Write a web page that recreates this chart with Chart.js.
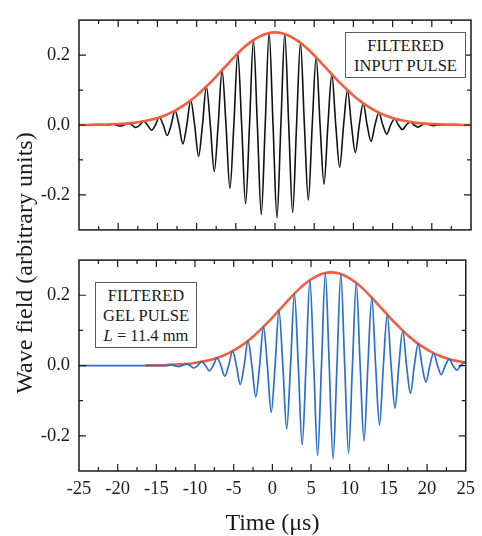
<!DOCTYPE html>
<html><head><meta charset="utf-8">
<script src="https://cdn.jsdelivr.net/npm/chart.js@4.4.0/dist/chart.umd.min.js"></script>
<style>
html,body{margin:0;padding:0;background:#fff;overflow:hidden;}
#wrap{position:relative;width:482px;height:536px;font-family:"Liberation Serif","Times New Roman",serif;color:#1a1a1a;}
#cA{position:absolute;left:0;top:0;}
#cB{position:absolute;left:0;top:240px;}
.box{position:absolute;border:1px solid #5a5a5a;background:#fff;text-align:center;font-size:16.5px;line-height:20px;box-sizing:border-box;padding-top:3px;white-space:nowrap;}
#ytitle{position:absolute;left:-126px;top:248px;width:300px;height:30px;line-height:30px;font-size:24px;text-align:center;transform:rotate(-90deg);white-space:nowrap;}
</style>
</head><body>
<div id="wrap">
<canvas id="cA" width="482" height="250"></canvas>
<canvas id="cB" width="482" height="296"></canvas>
<div class="box" style="left:345px;top:32px;width:121px;height:46px;">FILTERED<br>INPUT PULSE</div>
<div class="box" style="left:95px;top:282px;width:102px;height:66px;">FILTERED<br>GEL PULSE<br><i>L</i> = 11.4 mm</div>
<div id="ytitle">Wave field (arbitrary units)</div>
</div>
<script>
// ---- data ----
const xTickValues = [-25,-20,-15,-10,-5,0,5,10,15,20,25];
const yTickLabels = ['-0.2','0.0','0.2'];

const inputTimes = [-25,-21.25,-20.75,-20.25,-19.75,-19.25,-18.75,-18.25,-17.75,-17.25,-16.75,-16.25,-15.75,-15.25,-14.75,-14.25,-13.75,-13.25,-12.75,-12.25,-11.75,-11.25,-10.75,-10.25,-9.75,-9.25,-8.75,-8.25,-7.75,-7.25,-6.75,-6.25,-5.75,-5.25,-4.75,-4.25,-3.75,-3.25,-2.75,-2.25,-1.75,-1.25,-0.75,-0.25,0.25,0.75,1.25,1.75,2.25,2.75,3.25,3.75,4.25,4.75,5.25,5.75,6.25,6.75,7.25,7.75,8.25,8.75,9.25,9.75,10.25,10.75,11.25,11.75,12.25,12.75,13.25,13.75,14.25,14.75,15.25,15.75,16.25,16.75,17.25,17.75,18.25,18.75,19.25,19.75,20.25,20.75,25];
const inputWave = [0,0,0.002,0,-0.003,0,0.005,0,-0.007,0,0.011,0,-0.015,0,0.022,0,-0.030,0,0.041,0,-0.054,0,0.070,0,-0.089,0,0.110,0,-0.133,0,0.157,0,-0.181,0,0.205,0,-0.226,0,0.243,0,-0.256,0,0.263,0,-0.265,0,0.260,0,-0.250,0,0.235,0,-0.215,0,0.193,0,-0.169,0,0.145,0,-0.121,0,0.099,0,-0.079,0,0.062,0,-0.047,0,0.035,0,-0.026,0,0.018,0,-0.013,0,0.009,0,-0.006,0,0.004,0,-0.002,0,0];

const inputEnvTimes = [-25,-24,-23,-22,-21,-20,-19,-18,-17,-16,-15,-14,-13,-12,-11,-10,-9,-8,-7,-6,-5,-4,-3,-2,-1,0,1,2,3,4,5,6,7,8,9,10,11,12,13,14,15,16,17,18,19,20,21,22,23,24,25];
const inputEnv = [0,0,0.001,0.001,0.002,0.003,0.004,0.006,0.010,0.014,0.020,0.028,0.038,0.051,0.066,0.084,0.105,0.127,0.151,0.175,0.199,0.221,0.239,0.253,0.262,0.265,0.262,0.253,0.239,0.221,0.199,0.175,0.151,0.127,0.105,0.084,0.066,0.051,0.038,0.028,0.020,0.014,0.010,0.006,0.004,0.003,0.002,0.001,0.001,0,0];

const gelTimes = [-25,-13.65,-13.15,-12.65,-12.15,-11.65,-11.15,-10.65,-10.15,-9.65,-9.15,-8.65,-8.15,-7.65,-7.15,-6.65,-6.15,-5.65,-5.15,-4.65,-4.15,-3.65,-3.15,-2.65,-2.15,-1.65,-1.15,-0.65,-0.15,0.35,0.85,1.35,1.85,2.35,2.85,3.35,3.85,4.35,4.85,5.35,5.85,6.35,6.85,7.35,7.85,8.35,8.85,9.35,9.85,10.35,10.85,11.35,11.85,12.35,12.85,13.35,13.85,14.35,14.85,15.35,15.85,16.35,16.85,17.35,17.85,18.35,18.85,19.35,19.85,20.35,20.85,21.35,21.85,22.35,22.85,23.35,23.85,24.35,24.85,25];
const gelWave = [0,0,0.002,0,-0.003,0,0.005,0,-0.007,0,0.011,0,-0.015,0,0.022,0,-0.030,0,0.041,0,-0.054,0,0.070,0,-0.089,0,0.110,0,-0.133,0,0.157,0,-0.181,0,0.205,0,-0.226,0,0.243,0,-0.256,0,0.263,0,-0.265,0,0.260,0,-0.250,0,0.235,0,-0.215,0,0.193,0,-0.169,0,0.145,0,-0.121,0,0.099,0,-0.079,0,0.062,0,-0.047,0,0.035,0,-0.026,0,0.018,0,-0.013,0,0.009,0.008];

const gelEnvTimes = [-16.4,-15.4,-14.4,-13.4,-12.4,-11.4,-10.4,-9.4,-8.4,-7.4,-6.4,-5.4,-4.4,-3.4,-2.4,-1.4,-0.4,0.6,1.6,2.6,3.6,4.6,5.6,6.6,7.6,8.6,9.6,10.6,11.6,12.6,13.6,14.6,15.6,16.6,17.6,18.6,19.6,20.6,21.6,22.6,23.6,24.6,25];
const gelEnv = [0,0.001,0.001,0.002,0.003,0.004,0.006,0.010,0.014,0.020,0.028,0.038,0.051,0.066,0.084,0.105,0.127,0.151,0.175,0.199,0.221,0.239,0.253,0.262,0.265,0.262,0.253,0.239,0.221,0.199,0.175,0.151,0.127,0.105,0.084,0.066,0.051,0.038,0.028,0.020,0.014,0.010,0.008];

// ---- helpers ----
const pts = (ts, vs) => ts.map((t, i) => ({x: t, y: vs[i]}));
const FONT = "'Liberation Serif', 'Times New Roman', serif";
const ORANGE = '#f0603e', BLUE = '#2c6fc9', BLACK = '#111111';

const framePlugin = {
  id: 'frame',
  afterDatasetsDraw(chart) {
    const {ctx, chartArea: a, scales: {x, y}} = chart;
    ctx.save();
    ctx.strokeStyle = '#1a1a1a';
    ctx.lineWidth = 1.5;
    ctx.strokeRect(a.left, a.top, a.right - a.left, a.bottom - a.top);
    ctx.lineWidth = 1.2;
    ctx.beginPath();
    for (let k = -9; k <= 9; k++) {
      const px = x.getPixelForValue(k * 2.5);
      const L = (k % 2 === 0) ? 7 : 4;
      ctx.moveTo(px, a.bottom); ctx.lineTo(px, a.bottom - L);
      ctx.moveTo(px, a.top); ctx.lineTo(px, a.top + L);
    }
    for (let k = -2; k <= 2; k++) {
      const py = y.getPixelForValue(k / 10);
      const L = (k % 2 === 0) ? 7 : 4;
      ctx.moveTo(a.left, py); ctx.lineTo(a.left + L, py);
      ctx.moveTo(a.right, py); ctx.lineTo(a.right - L, py);
    }
    ctx.stroke();
    ctx.restore();
  }
};

function yScale() {
  return {
    min: -0.3, max: 0.3,
    ticks: {
      stepSize: 0.1, padding: 9, color: '#1a1a1a',
      font: {family: FONT, size: 18.5},
      callback: v => {
        const k = Math.round(v * 10);
        if (k % 2 !== 0 || Math.abs(k) >= 3) return '';
        return yTickLabels[k / 2 + 1];
      }
    },
    grid: {display: false, drawTicks: false},
    border: {display: false},
    afterFit(s) { s.width = 79; }
  };
}

const common = {
  responsive: false, animation: false,
  plugins: {legend: {display: false}, tooltip: {enabled: false}},
  elements: {point: {radius: 0}, line: {cubicInterpolationMode: 'monotone'}}
};

new Chart(document.getElementById('cA'), {
  type: 'line',
  data: {datasets: [
    {data: pts(inputEnvTimes, inputEnv), borderColor: ORANGE, borderWidth: 2.6, fill: false},
    {data: pts(inputTimes, inputWave), borderColor: BLACK, borderWidth: 1.6, fill: false}
  ]},
  options: Object.assign({}, common, {
    layout: {padding: {left: 0, right: 11, top: 15, bottom: 17}},
    scales: {
      x: {type: 'linear', min: -25, max: 25, display: false},
      y: yScale()
    }
  }),
  plugins: [framePlugin]
});

new Chart(document.getElementById('cB'), {
  type: 'line',
  data: {datasets: [
    {data: pts(gelTimes, gelWave), borderColor: BLUE, borderWidth: 1.7, fill: false},
    {data: pts(gelEnvTimes, gelEnv), borderColor: ORANGE, borderWidth: 2.6, fill: false}
  ]},
  options: Object.assign({}, common, {
    layout: {padding: {left: 0, right: 11, top: 13, bottom: 0}},
    scales: {
      x: {
        type: 'linear', min: -25, max: 25,
        afterBuildTicks(s) { s.ticks = xTickValues.map(v => ({value: v})); },
        ticks: {padding: 7, maxRotation: 0, autoSkip: false, color: '#1a1a1a',
                font: {family: FONT, size: 18.5}, callback: v => String(v)},
        grid: {display: false, drawTicks: false},
        border: {display: false},
        title: {display: true, text: 'Time (μs)', color: '#1a1a1a',
                font: {family: FONT, size: 24, lineHeight: 1}, padding: {top: 0, bottom: 0}},
        afterFit(s) { s.height = 65; }
      },
      y: yScale()
    }
  }),
  plugins: [framePlugin]
});
</script>
</body></html>
